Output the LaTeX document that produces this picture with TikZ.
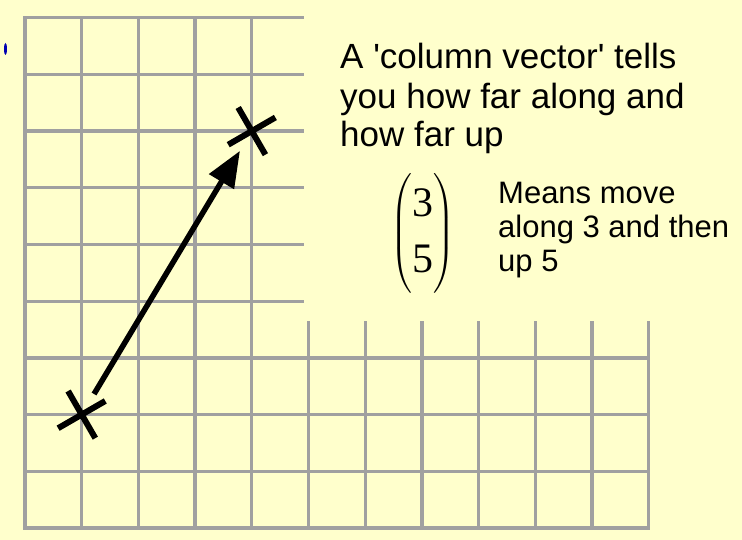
\documentclass[tikz,border=0pt]{standalone}
\usepackage{amsmath}
\usepackage{fontspec}
\setmainfont{Liberation Sans}
\newfontfamily\vecfont{Liberation Serif}
\usetikzlibrary{arrows.meta,shapes.misc}
\definecolor{paper}{HTML}{FFFFCC}
\definecolor{gridgray}{HTML}{A0A0A0}
\begin{document}
\begin{tikzpicture}[x=56.7pt,y=56.7pt,
    gridline/.style={gridgray, line width=3.3pt, line cap=rect},
    crossmark/.style={cross out, draw, line width=6pt, minimum size=32.5pt, inner sep=0pt, rotate=-15},
    vec/.style={line width=5.5pt, -{Triangle[length=36pt,width=28pt]}, shorten <=4pt, shorten >=3pt},
    big/.style={font=\fontsize{35}{40}\selectfont, anchor=base west, inner sep=0pt},
    small/.style={font=\fontsize{31}{34}\selectfont, anchor=base west, inner sep=0pt}]
    \fill[paper] (-25pt,-12pt) rectangle (717pt,528pt);
    \fill[blue!70!black] (-0.344,8.448) ellipse (1.5pt and 6pt);

    % squared paper
    \foreach \y in {0,...,3} \draw[gridline] (0,\y) -- (11,\y);
    \foreach \y in {4,...,9} \draw[gridline] (0,\y) -- (4.885,\y);
    \foreach \x in {0,...,4} \draw[gridline] (\x,0) -- (\x,9);
    \foreach \x in {5,...,11} \draw[gridline] (\x,0) -- (\x,3.615);

    % the two points and the vector between them
    \node[crossmark] (start) at (1,2) {};
    \node[crossmark] (finish) at (4,7) {};
    \draw[vec] (start) -- (finish);

    \node[big] (title1) at (5.556,8.108) {A \textquotesingle column vector\textquotesingle\ tells};
    \node[big] (title2) at (5.556,7.407) {you how far along and};
    \node[big] (title3) at (5.556,6.725) {how far up};

    \node[font=\vecfont\fontsize{42}{56}\selectfont] (colvec) at (7.011,5.194)
        {$\begin{pmatrix}\mbox{3}\\ \mbox{5}\end{pmatrix}$};

    \node[small] (note1) at (8.342,5.723) {Means move};
    \node[small] (note2) at (8.342,5.123) {along 3 and then};
    \node[small] (note3) at (8.342,4.532) {up 5};
\end{tikzpicture}
\end{document}
